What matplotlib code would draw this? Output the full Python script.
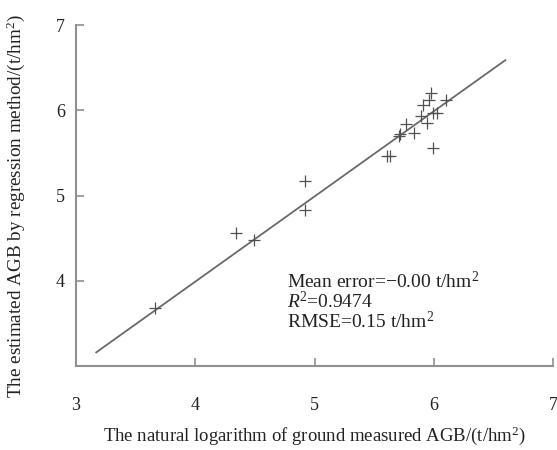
import matplotlib.pyplot as plt

# ground measured (ln AGB) vs regression estimate
measured = [3.66, 4.34, 4.49, 4.92, 4.92, 5.61, 5.63, 5.71, 5.72, 5.77, 5.83,
            5.89, 5.91, 5.94, 5.96, 5.98, 5.99, 6.03, 5.99, 6.10]
estimated = [3.68, 4.56, 4.48, 5.17, 4.83, 5.47, 5.47, 5.70, 5.72, 5.84, 5.74,
             5.93, 6.06, 5.85, 6.12, 6.21, 5.97, 5.97, 5.56, 6.12]
fit_x = [3.17, 6.60]
fit_y = [3.16, 6.59]

xticks = [3, 4, 5, 6, 7]
yticks = [4, 5, 6, 7]

plt.rcParams['font.family'] = ['Liberation Serif', 'DejaVu Serif']
plt.rcParams['mathtext.fontset'] = 'custom'
plt.rcParams['mathtext.rm'] = 'Liberation Serif'
plt.rcParams['mathtext.it'] = 'Liberation Serif:italic'

fig = plt.figure(figsize=(5.57, 4.5), dpi=100)
ax = fig.add_axes([0.1364, 0.1867, 0.8566, 0.7573])

ax.plot(fit_x, fit_y, color='#6a6a6a', lw=1.3)
ax.plot(measured, estimated, '+', color='#505050', ms=8, mew=0.9)

ax.set_xlim(3, 7)
ax.set_ylim(3, 7)
ax.set_xticks(xticks)
ax.set_yticks(yticks)

for s in ['top', 'right']:
    ax.spines[s].set_visible(False)
for s in ['left', 'bottom']:
    ax.spines[s].set_color('#909090')
    ax.spines[s].set_linewidth(1.5)

ax.tick_params(axis='x', direction='in', length=6, width=1.2, color='#909090',
               pad=22, labelsize=13, labelcolor='#222222')
ax.tick_params(axis='y', direction='in', length=6, width=1.2, color='#909090',
               pad=8, labelsize=13, labelcolor='#222222')

ax.set_xlabel('The natural logarithm of ground measured AGB/(t/hm$^2$)',
              fontsize=13.5, color='#222222', labelpad=8)
ax.set_ylabel('The estimated AGB by regression method/(t/hm$^2$)',
              fontsize=13.8, color='#222222')
ax.yaxis.set_label_coords(-0.102, 0.47)

ax.text(0.442, 0.28, 'Mean error=\u22120.00 t/hm$^2$\n$\\it{R}$$^2$=0.9474\nRMSE=0.15 t/hm$^2$',
        transform=ax.transAxes, fontsize=14, color='#222222', va='top',
        linespacing=0.93)

fig.savefig('out.png', dpi=100)
